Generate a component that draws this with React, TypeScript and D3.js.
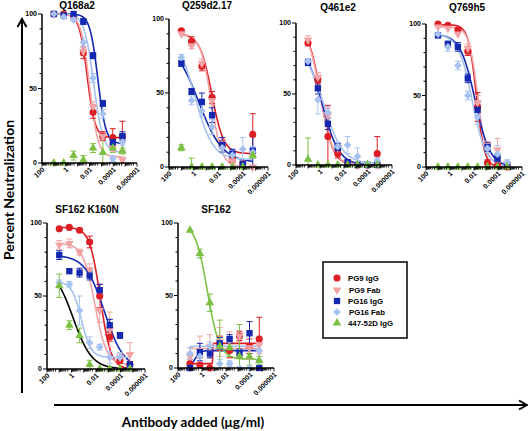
import React from "react";
import * as d3 from "d3";

// ---------------- data ----------------
const concentrations = [10, 1.5, 0.22, 0.033, 0.005, 0.00075, 0.00011, 0.000017];
const antibodies = ["PG9 IgG", "PG9 Fab", "PG16 IgG", "PG16 Fab", "447-52D IgG"];
const panelTitles = ["Q168a2", "Q259d2.17", "Q461e2", "Q769h5", "SF162 K160N", "SF162"];
const xTickValues = [100, 1, 0.01, 0.0001, 0.000001];
const xTickLabels = ["100", "1", "0.01", "0.0001", "0.000001"];
const yTickValues = [0, 50, 100];
const yAxisTitle = "Percent Neutralization";
const xAxisTitle = "Antibody added (\u03bcg/ml)";

// rows: PG9 IgG, PG9 Fab, PG16 IgG, PG16 Fab, 447-52D IgG
const q168a2Mean = [
  [100, 100, 98, 74, 34, 18, 17, 18],
  [100, 99, 97, 75, 38, 18, 10, 2],
  [100, 99, 100, 95, 72, 40, 14, 18],
  [100, 98, 96, 81, 57, 33, 3, 14],
  [0, 0, 5, 2, 10, 7, 10, 8],
];
const q168a2Err = [
  [0, 0, 0, 4, 4, 3, 6, 10],
  [0, 0, 0, 3, 3, 2, 2, 2],
  [0, 0, 0, 2, 2, 2, 2, 3],
  [0, 0, 0, 3, 3, 3, 2, 2],
  [0, 0, 3, 3, 3, 10, 3, 2],
];
const q168a2Fit = [
  [100, 17, -1.8, 1.3],
  [100, 4, -2.0, 1.2],
  [100, 13, -2.7, 1.3],
  [100, 7, -2.35, 1.1],
  null,
];

const q259Mean = [
  [92, 85, 68, 47, 14, 5, 2, 22],
  [90, 82, 70, 45, 16, 4, 1, 0],
  [70, 51, 44, 35, 15, 9, 2, 11],
  [74, 45, 38, 27, 13, 8, 12, 10],
  [13, 0, 0, 0, 0, 0, 0, 8],
];
const q259Err = [
  [0, 3, 3, 4, 4, 2, 2, 14],
  [0, 2, 3, 3, 3, 2, 1, 0],
  [2, 2, 6, 5, 5, 3, 2, 10],
  [2, 3, 4, 5, 3, 3, 8, 4],
  [2, 6, 0, 0, 0, 0, 0, 2],
];
const q259Fit = [
  [90, 9, -1.45, 0.9],
  [90, 0, -1.4, 1.0],
  [85, 3, -0.4, 0.45],
  [90, 5, -0.1, 0.6],
  null,
];

const q461Mean = [
  [86, 60, 20, 8, 1, 0, 0, 8],
  [88, 62, 35, 12, 2, 0, 0, 0],
  [72, 54, 29, 12, 2, 0, 0, 0],
  [73, 46, 37, 13, 14, 6, 1, 3],
  [4, 0, 0, 0, 0, 0, 0, 0],
];
const q461Err = [
  [2, 3, 22, 3, 1, 0, 0, 12],
  [3, 3, 5, 3, 1, 0, 0, 0],
  [2, 4, 4, 3, 1, 0, 0, 0],
  [2, 10, 4, 3, 6, 6, 1, 2],
  [15, 0, 0, 0, 0, 0, 0, 0],
];
const q461Fit = [
  [98, 0, -0.05, 0.85],
  [100, 0, 0.0, 0.8],
  [85, 0, -0.2, 0.63],
  [85, 1, -0.3, 0.55],
  null,
];

const q769Mean = [
  [100, 99, 96, 81, 42, 3, 1, 0],
  [98, 97, 93, 83, 45, 15, 12, 2],
  [92, 86, 84, 62, 40, 14, 6, 1],
  [93, 84, 71, 50, 35, 13, 9, 3],
  [0, 0, 0, 0, 0, 0, 0, 0],
];
const q769Err = [
  [0, 0, 0, 3, 10, 2, 0, 0],
  [0, 0, 0, 3, 5, 3, 8, 2],
  [0, 2, 3, 3, 5, 3, 2, 0],
  [0, 3, 3, 3, 5, 3, 6, 2],
  [0, 0, 0, 0, 0, 0, 0, 0],
];
const q769Fit = [
  [99.5, 0, -2.2, 1.3],
  [98, 2, -2.3, 1.2],
  [93, 0, -2.1, 0.7],
  [93, 0, -1.85, 0.75],
  null,
];

const sf162k160nMean = [
  [96, 97, 95, 87, 50, 22, 6, 3],
  [85, 86, 80, 68, 40, 27, 8, 10],
  [78, 67, 66, 64, 54, 30, 23, 3],
  [59, 58, 40, 18, 15, 8, 8, 0],
  [57, 30, 23, 3, 0, 0, 0, 0],
];
const sf162k160nErr = [
  [0, 0, 0, 4, 8, 3, 2, 2],
  [3, 3, 2, 4, 8, 12, 3, 8],
  [3, 0, 3, 3, 4, 4, 2, 2],
  [2, 2, 10, 4, 2, 4, 3, 0],
  [8, 3, 5, 3, 0, 0, 0, 0],
];
const sf162k160nFit = [
  [97, 0, -2.35, 1.0],
  [86, 3, -1.9, 0.9],
  [78, 0, -2.7, 0.55],
  [60, 8, -0.8, 1.1],
  [70, 0, -0.134, 0.566],
];

const sf162Mean = [
  [3, 2, 0, 17, 12, 22, 15, 20],
  [8, 12, 15, 18, 19, 22, 14, 16],
  [0, 11, 10, 17, 20, 10, 24, 0],
  [10, 8, 15, 3, 3, 0, 0, 12],
  [95, 79, 45, 15, 14, 8, 8, 5],
];
const sf162Err = [
  [3, 5, 3, 5, 5, 3, 5, 15],
  [6, 10, 8, 10, 6, 4, 8, 6],
  [0, 6, 3, 4, 3, 3, 8, 0],
  [4, 5, 3, 3, 2, 0, 0, 6],
  [0, 3, 6, 18, 6, 22, 6, 3],
];
const sf162Fit = [
  [3, 17, -0.9, 30],
  [13.5, 13.5, 0, 1],
  [0, 12, 0.6, 2],
  [15, 15, 0, 1],
  [100, 6, -0.45, 0.86],
];

const panelMeans = [q168a2Mean, q259Mean, q461Mean, q769Mean, sf162k160nMean, sf162Mean];
const panelErrs = [q168a2Err, q259Err, q461Err, q769Err, sf162k160nErr, sf162Err];
const panelFits = [q168a2Fit, q259Fit, q461Fit, q769Fit, sf162k160nFit, sf162Fit];

// ---------------- layout & style ----------------
const LAYOUT = [
  { left: 42, right: 137, top: 14, bottom: 163, titleX: 77, titleY: 9 },
  { left: 169, right: 268, top: 19, bottom: 167, titleX: 207, titleY: 9 },
  { left: 296, right: 392, top: 23, bottom: 165, titleX: 338, titleY: 10.5 },
  { left: 426, right: 522, top: 24, bottom: 167, titleX: 467, titleY: 11 },
  { left: 47, right: 145, top: 223, bottom: 369, titleX: 87, titleY: 213 },
  { left: 178, right: 274, top: 223, bottom: 368, titleX: 216, titleY: 213 },
];
const COLORS = ["#dc1e25", "#f2a3a5", "#1428b0", "#a6c2f0", "#7cc043"];
const FIT_COLORS_OVERRIDE: Record<string, string> = { "4-4": "#000000" };
const SYMBOLS = [
  { type: d3.symbolCircle, size: 40, rot: 0 },
  { type: d3.symbolTriangle, size: 32, rot: 180 },
  { type: d3.symbolSquare, size: 40, rot: 0 },
  { type: d3.symbolSquare, size: 30, rot: 45 },
  { type: d3.symbolTriangle, size: 32, rot: 0 },
];
const FONT = "Arial, 'Liberation Sans', sans-serif";
const TITLE_FONT = "Lato, 'Open Sans', sans-serif";

function fourPL(p: number[], logx: number) {
  const [top, bottom, logEC, hill] = p;
  return bottom + (top - bottom) / (1 + Math.pow(10, hill * (logEC - logx)));
}

function Panel({ idx }: { idx: number }) {
  const L = LAYOUT[idx];
  const x = d3.scaleLog().domain([100, 1e-6]).range([L.left, L.right]);
  const y = d3.scaleLinear().domain([0, 100]).range([L.bottom, L.top]);
  const means = panelMeans[idx];
  const errs = panelErrs[idx];
  const fits = panelFits[idx];

  const minorX: { v: number; major: boolean }[] = [];
  for (let d = -6; d <= 2; d++) {
    for (let k = 1; k <= 9; k++) {
      const v = k * Math.pow(10, d);
      if (v >= 1e-6 * 0.999 && v <= 100 * 1.001) minorX.push({ v, major: k === 1 });
    }
  }
  const minorY = d3.range(0, 101, 10);

  const lo = Math.log10(concentrations[concentrations.length - 1]);
  const hi = Math.log10(concentrations[0]);
  const samples = d3.range(0, 301).map((i) => hi + ((lo - hi) * i) / 300);
  const line = d3
    .line<[number, number]>()
    .x((d) => d[0])
    .y((d) => d[1]);

  return (
    <g>
      <text
        x={L.titleX}
        y={L.titleY}
        textAnchor="middle"
        fontFamily={FONT}
        fontWeight="bold"
        fontSize={10}
      >
        {panelTitles[idx]}
      </text>
      {fits.map((p, s) => {
        if (!p) return null;
        const pts: [number, number][] = samples.map((lx) => [
          x(Math.pow(10, lx)),
          y(Math.max(0, Math.min(100, fourPL(p, lx)))),
        ]);
        const col = FIT_COLORS_OVERRIDE[`${idx}-${s}`] || COLORS[s];
        return (
          <path key={"f" + s} d={line(pts) || ""} fill="none" stroke={col} strokeWidth={1.6} />
        );
      })}
      {means.map((row, s) =>
        row.map((v, i) => {
          const e = errs[s][i];
          if (!e) return null;
          const cx = x(concentrations[i]);
          const y1 = y(Math.min(100, v + e));
          const y2 = y(Math.max(0, v - e));
          return (
            <g key={`e${s}-${i}`} stroke={COLORS[s]} strokeWidth={1}>
              <line x1={cx} x2={cx} y1={y1} y2={y2} />
              <line x1={cx - 3} x2={cx + 3} y1={y1} y2={y1} />
              {v - e > 0 && <line x1={cx - 3} x2={cx + 3} y1={y2} y2={y2} />}
            </g>
          );
        })
      )}
      {means.map((row, s) =>
        row.map((v, i) => {
          const sym = SYMBOLS[s];
          const d = d3.symbol().type(sym.type).size(sym.size)() || "";
          return (
            <path
              key={`m${s}-${i}`}
              d={d}
              fill={COLORS[s]}
              transform={`translate(${x(concentrations[i])},${y(v)}) rotate(${sym.rot})`}
            />
          );
        })
      )}
      <line x1={L.left} x2={L.left} y1={L.bottom + 0.75} y2={L.top} stroke="#000" strokeWidth={1.5} />
      <line x1={L.left} x2={L.right} y1={L.bottom} y2={L.bottom} stroke="#000" strokeWidth={1.5} />
      {minorY.map((v) => {
        const major = yTickValues.includes(v);
        return (
          <line
            key={"yt" + v}
            x1={L.left}
            x2={L.left - (major ? 4 : 2.5)}
            y1={y(v)}
            y2={y(v)}
            stroke="#000"
            strokeWidth={1}
          />
        );
      })}
      {yTickValues.map((v) => (
        <text
          key={"yl" + v}
          x={L.left - 5}
          y={y(v)}
          dy="0.35em"
          textAnchor="end"
          fontFamily={FONT}
          fontWeight="bold"
          fontSize={7}
        >
          {v}
        </text>
      ))}
      {minorX.map((t, i) => (
        <line
          key={"xt" + i}
          x1={x(t.v)}
          x2={x(t.v)}
          y1={L.bottom}
          y2={L.bottom + (t.major ? 3.5 : 2.5)}
          stroke="#000"
          strokeWidth={0.9}
        />
      ))}
      {xTickValues.map((v, i) => (
        <text
          key={"xl" + i}
          transform={`translate(${x(v) + 3},${L.bottom + 7}) rotate(-45)`}
          textAnchor="end"
          fontFamily={FONT}
          fontWeight="bold"
          fontSize={7}
        >
          {xTickLabels[i]}
        </text>
      ))}
    </g>
  );
}

function Legend() {
  const bx = 323;
  const by = 262;
  const rows = [278, 290, 301, 312, 323];
  return (
    <g>
      <rect x={bx} y={by} width={84} height={76} fill="#fff" stroke="#000" strokeWidth={1.5} />
      {antibodies.map((name, s) => {
        const sym = SYMBOLS[s];
        const d = d3.symbol().type(sym.type).size(sym.size)() || "";
        return (
          <g key={name}>
            <path d={d} fill={COLORS[s]} transform={`translate(337,${rows[s]}) rotate(${sym.rot})`} />
            <text
              x={348 + (s === 1 || s === 3 ? 1 : 0)}
              y={rows[s]}
              dy="0.35em"
              fontFamily={FONT}
              fontWeight="bold"
              fontSize={7.8}
            >
              {name}
            </text>
          </g>
        );
      })}
    </g>
  );
}

export default function App() {
  return (
    <svg
      width={528}
      height={431}
      style={{ position: "absolute", left: 0, top: 0, background: "#fff" }}
    >
      <rect width={528} height={431} fill="#fff" />
      {LAYOUT.map((_, i) => (
        <Panel key={i} idx={i} />
      ))}
      <Legend />
      <line x1={22} x2={22} y1={393} y2={20} stroke="#000" strokeWidth={2} />
      <path d="M17.5,27 L22,19 L26.5,27" fill="none" stroke="#000" strokeWidth={2} />
      <line x1={54} x2={526} y1={405} y2={405} stroke="#000" strokeWidth={2} />
      <path d="M519,400.5 L527,405 L519,409.5" fill="none" stroke="#000" strokeWidth={2} />
      <text
        transform="translate(14,190) rotate(-90)"
        textAnchor="middle"
        fontFamily={TITLE_FONT}
        fontWeight="bold"
        fontSize={14}
      >
        {yAxisTitle}
      </text>
      <text x={193} y={427} textAnchor="middle" fontFamily={TITLE_FONT} fontWeight="bold" fontSize={13.5}>
        {xAxisTitle}
      </text>
    </svg>
  );
}
